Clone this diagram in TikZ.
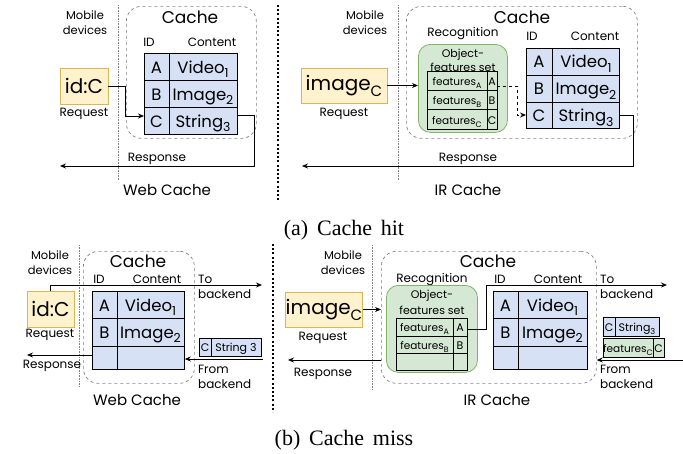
\documentclass[tikz,border=0pt]{standalone}
\usepackage{fontspec}
\setmainfont{Poppins}
\newfontfamily\capfont{Liberation Serif}
\usetikzlibrary{arrows.meta}
\definecolor{tblue}{RGB}{214,225,245}
\definecolor{ylwfill}{RGB}{255,242,204}
\definecolor{ylwdraw}{RGB}{214,182,86}
\definecolor{grnfill}{RGB}{213,232,212}
\definecolor{grndraw}{RGB}{130,179,102}
\newcommand\fsz[1]{\fontsize{#1}{#1}\selectfont}
\newcommand\dn[1]{\raisebox{-0.3em}{\scalebox{0.75}{#1}}}
\newcommand\capsp{\spaceskip=0.4em\relax}
\begin{document}
\begin{tikzpicture}[x=1pt,y=-1pt,
  lbl/.style={anchor=base,inner sep=0pt,font=\fsz{12}},
  lblw/.style={anchor=base west,inner sep=0pt,font=\fsz{12}},
  mob/.style={anchor=base,inner sep=0pt,font=\fsz{11.5}},
  cachet/.style={anchor=base,inner sep=0pt,font=\fsz{17}},
  titl/.style={anchor=base,inner sep=0pt,font=\fsz{15}},
  cell/.style={anchor=base,inner sep=0pt,font=\fsz{16.5}},
  small/.style={anchor=base,inner sep=0pt,font=\fsz{10.5}},
  tiny/.style={anchor=base,inner sep=0pt,font=\fsz{11}},
  nw/.style={anchor=north west,inner sep=0pt},
  cachebox/.style={nw,draw=gray,dashed,rounded corners=15pt,line width=0.7pt},
  blk/.style={nw,draw=black,fill=tblue,line width=0.8pt},
  gblk/.style={nw,draw=black,fill=grnfill,line width=0.8pt},
  req/.style={draw=ylwdraw,fill=ylwfill,line width=0.8pt,inner sep=0pt,font=\fsz{20}},
  recog/.style={nw,draw=grndraw,fill=grnfill,rounded corners=12pt,line width=0.8pt},
  arr/.style={-{Stealth[length=6pt,width=5pt]},line width=0.8pt},
  sep/.style={gray,densely dotted,line width=0.6pt},
  divl/.style={black,line width=2.2pt,dash pattern=on 2pt off 2.2pt},
  capt/.style={anchor=base,inner sep=0pt,font=\capfont\fsz{22}}
]
\useasboundingbox (0,0) rectangle (683,453);

% ================= (a) Web cache =================
\node[mob] (am1) at (85,19) {Mobile};
\node[mob] (am2) at (85,34) {devices};
\draw[sep] (118,5) -- (118,180);
\node[cachebox,minimum width=130pt,minimum height=132pt] (awc) at (126,6) {};
\node[cachet] (awct) at (190,23.3) {Cache};
\node[lbl] (awid) at (149,46.5) {ID};
\node[lbl] (awco) at (212,46.5) {Content};
\node[blk,minimum width=93pt,minimum height=81pt] (awt) at (144,53) {};
\draw[line width=0.8pt] (169,53) -- (169,134) (144,80) -- (237,80) (144,107) -- (237,107);
\node[cell] (awa) at (156.5,73) {A};
\node[cell] (awb) at (156.5,100) {B};
\node[cell] (awc3) at (156.5,127) {C};
\node[cell] (awv) at (203,73) {Video\dn{1}};
\node[cell] (awi) at (203,100) {Image\dn{2}};
\node[cell] (aws) at (203,127) {String\dn{3}};
\node[req,minimum width=48pt,minimum height=36pt] (aidc) at (84,86) {id:C};
\node[lbl] (areq) at (84,116) {Request};
\coordinate (awtC) at (144,116);
\draw[arr] (aidc.east) -- ++(17,0) |- (awtC);
\coordinate (awtS) at (237,115);
\coordinate (awresp) at (60,166);
\draw[arr] (awtS) -- (254,115) |- (awresp);
\node[lbl] (awrl) at (157,161) {Response};
\node[titl] (awtitle) at (167,195) {Web Cache};

% ================= (a) IR cache =================
\node[mob] (bm1) at (365,19) {Mobile};
\node[mob] (bm2) at (365,34) {devices};
\draw[sep] (398,5) -- (398,180);
\node[cachebox,minimum width=231pt,minimum height=132pt] (aic) at (406,6) {};
\node[cachet] (aict) at (522,23.3) {Cache};
\node[lbl] (arec) at (463,36) {Recognition};
\node[recog,minimum width=89pt,minimum height=88pt] (agrn) at (418,44) {};
\node[tiny] (aob1) at (463,57) {Object-};
\node[tiny] (aob2) at (463,71.5) {features set};
\node[gblk,minimum width=70pt,minimum height=58pt] (aft) at (427,71) {};
\draw[line width=0.8pt] (487,71) -- (487,129) (427,90) -- (497,90) (427,109.5) -- (497,109.5);
\node[small] (af1) at (457,85) {features\dn{A}};
\node[small] (af2) at (457,104.5) {features\dn{B}};
\node[small] (af3) at (457,124) {features\dn{C}};
\node[tiny] (afa) at (492,85) {A};
\node[tiny] (afb) at (492,104.5) {B};
\node[tiny] (afc) at (492,124) {C};
\node[req,minimum width=86pt,minimum height=35pt] (aimg) at (344,85.5) {image\dn{C}};
\node[lbl] (areq2) at (344,116) {Request};
\draw[arr] (aimg.east) -- (aimg.east -| agrn.west);
\node[blk,minimum width=93pt,minimum height=80pt] (ait) at (526,48) {};
\draw[line width=0.8pt] (552,48) -- (552,128) (526,75) -- (619,75) (526,102) -- (619,102);
\node[cell] (aia) at (539,67.5) {A};
\node[cell] (aib) at (539,94.5) {B};
\node[cell] (aic3) at (539,121.5) {C};
\node[cell] (aiv) at (586,67.5) {Video\dn{1}};
\node[cell] (aii) at (586,94.5) {Image\dn{2}};
\node[cell] (ais) at (586,121.5) {String\dn{3}};
\node[lbl] (aiid) at (532,40.7) {ID};
\node[lbl] (aico) at (595,40.7) {Content};
\coordinate (aftA) at (497,86);
\coordinate (aitC) at (526,115);
\draw[arr,dashed] (aftA) -- (517,86) |- (aitC);
\coordinate (aitS) at (619,115);
\coordinate (airesp) at (302,166);
\draw[arr] (aitS) -- (633,115) |- (airesp);
\node[lbl] (airl) at (468,161) {Response};
\node[titl] (aititle) at (468,195) {IR Cache};

\draw[divl] (278,5) -- (278,200);
\node[capt] (capa) at (344,235) {\capsp (a) Cache hit};

% ================= (b) Web cache =================
\node[mob] (cm1) at (50,259) {Mobile};
\node[mob] (cm2) at (50,274) {devices};
\draw[sep] (79,245) -- (79,387);
\node[cachebox,minimum width=111pt,minimum height=132pt] (bwc) at (83,251) {};
\node[cachet] (bwct) at (138,267) {Cache};
\node[lbl] (bwid) at (99,283) {ID};
\node[lbl] (bwco) at (157,283) {Content};
\node[blk,minimum width=92pt,minimum height=78pt] (bwt) at (92,291) {};
\draw[line width=0.8pt] (117,291) -- (117,369) (92,318) -- (184,318) (92,346) -- (184,346);
\node[cell] (bwa) at (104.5,311) {A};
\node[cell] (bwb) at (104.5,338) {B};
\node[cell] (bwv) at (150.5,311) {Video\dn{1}};
\node[cell] (bwi) at (150.5,338) {Image\dn{2}};
\node[req,minimum width=47pt,minimum height=36pt] (bidc) at (50.5,309) {id:C};
\node[lbl] (breq) at (50,337) {Request};
\coordinate (btb1) at (262,285);
\draw[arr] (bidc.north) |- (btb1);
\node[lblw] (bto1) at (198,283) {To};
\node[lblw] (bbk1) at (198,298) {backend};
\node[blk,minimum width=62pt,minimum height=18pt] (bws) at (199,338) {};
\draw[line width=0.8pt] (211,338) -- (211,356);
\node[tiny] (bwsc) at (205,351.5) {C};
\node[tiny] (bwss) at (236,351.5) {String 3};
\coordinate (bfb1) at (263,359);
\draw[arr] (bfb1) -- (bfb1 -| bwt.east);
\node[lblw] (bfr1) at (198,373) {From};
\node[lblw] (bbk2) at (198,388) {backend};
\coordinate (bwl) at (92,355);
\coordinate (bwresp) at (27,355);
\draw[arr] (bwl) -- (bwresp);
\node[lbl] (bwrl) at (52,368) {Response};
\node[titl] (bwtitle) at (137,405) {Web Cache};

% ================= (b) IR cache =================
\node[mob] (dm1) at (343,259) {Mobile};
\node[mob] (dm2) at (343,274) {devices};
\draw[sep] (372,245) -- (372,390);
\node[cachebox,minimum width=215pt,minimum height=132pt] (bic) at (381,251) {};
\node[cachet] (bict) at (488,267) {Cache};
\node[lbl] (brec) at (432,282) {Recognition};
\node[recog,minimum width=91pt,minimum height=87pt] (bgrn) at (386,285) {};
\node[tiny] (bob1) at (432,298) {Object-};
\node[tiny] (bob2) at (432,314) {features set};
\node[gblk,minimum width=71pt,minimum height=52pt] (bft) at (396,318) {};
\draw[line width=0.8pt] (453,318) -- (453,370) (396,336.5) -- (467,336.5) (396,353.5) -- (467,353.5);
\node[small] (bf1) at (424.5,331.5) {features\dn{A}};
\node[small] (bf2) at (424.5,349) {features\dn{B}};
\node[tiny] (bfa) at (460,331.5) {A};
\node[tiny] (bfb) at (460,349) {B};
\node[req,minimum width=74pt,minimum height=35pt] (bimg) at (324,309.5) {image\dn{C}};
\node[lbl] (breq2) at (323,340) {Request};
\draw[arr] (bimg.east) -- (bimg.east -| bic.west);
\coordinate (bftE) at (467,329);
\coordinate (btb2) at (667,285);
\draw[arr] (bftE) -- (486,329) |- (btb2);
\node[blk,minimum width=94pt,minimum height=78pt] (bit) at (493,291) {};
\draw[line width=0.8pt] (518,291) -- (518,369) (493,318) -- (587,318) (493,346) -- (587,346);
\node[cell] (bia) at (505.5,311) {A};
\node[cell] (bib) at (505.5,338) {B};
\node[cell] (biv) at (552.5,311) {Video\dn{1}};
\node[cell] (bii) at (552.5,338) {Image\dn{2}};
\node[lbl] (biid) at (500,283) {ID};
\node[lbl] (bico) at (558,283) {Content};
\node[lblw] (bto2) at (600,283) {To};
\node[lblw] (bbk3) at (600,298) {backend};
\node[blk,minimum width=56pt,minimum height=19pt] (bis) at (603,317) {};
\draw[line width=0.8pt] (615,317) -- (615,336);
\node[tiny] (bisc) at (609,331) {C};
\node[tiny] (biss) at (637,331) {String\dn{3}};
\node[gblk,minimum width=61pt,minimum height=19pt] (bif) at (603,338) {};
\draw[line width=0.8pt] (653,338) -- (653,357);
\node[small] (biff) at (628,352) {features\dn{C}};
\node[tiny] (bifc) at (658.5,352) {C};
\coordinate (bfb2) at (683,360);
\draw[arr] (bfb2) -- (bfb2 -| bic.east);
\node[lblw] (bfr2) at (600,373) {From};
\node[lblw] (bbk4) at (600,388) {backend};
\coordinate (bil) at (381,360);
\coordinate (biresp) at (288,360);
\draw[arr] (bil) -- (biresp);
\node[lbl] (birl) at (323,376) {Response};
\node[titl] (bititle) at (497,405) {IR Cache};

\draw[divl] (273,244) -- (273,412);
\node[capt] (capb) at (344,445) {\capsp (b) Cache miss};
\end{tikzpicture}
\end{document}
